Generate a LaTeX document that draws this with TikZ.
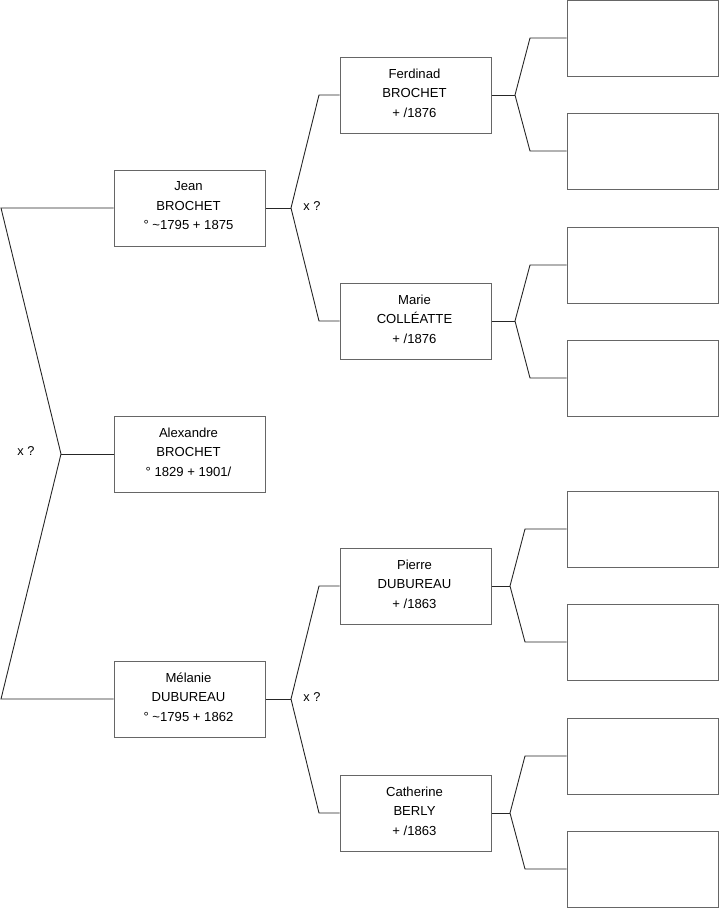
\documentclass[tikz,border=0pt]{standalone}
\usepackage{fontspec}
\setmainfont{Liberation Sans}
\begin{document}
\begin{tikzpicture}[x=1pt,y=-1pt,
  box/.style={draw=black!60,line width=1pt,fill=white,minimum width=151pt,minimum height=76pt,inner sep=0pt,align=center,font=\fontsize{13.1pt}{19.5pt}\selectfont},
  conn/.style={draw=black!85,line width=0.9pt},
  lbl/.style={font=\fontsize{12.8pt}{14pt}\selectfont,inner sep=0pt}]
\useasboundingbox (0,0) rectangle (719,908);
% generation 1
\node[box] (alex) at (189.5,454) {};
\node[align=center,inner sep=0pt,font=\fontsize{13.1pt}{19.5pt}\selectfont] (alext) at (188.5,452) {Alexandre\\BROCHET\\° 1829 + 1901/};
% generation 2
\node[box] (jean) at (189.5,208) {};
\node[align=center,inner sep=0pt,font=\fontsize{13.1pt}{19.5pt}\selectfont] (jeant) at (188.5,206) {Jean\\BROCHET\\° \textasciitilde1795 + 1875};
\node[box] (mel) at (189.5,699) {};
\node[align=center,inner sep=0pt,font=\fontsize{13.1pt}{19.5pt}\selectfont] (melt) at (188.5,697) {Mélanie\\DUBUREAU\\° \textasciitilde1795 + 1862};
% generation 3
\node[box] (ferd) at (415.5,95) {};
\node[align=center,inner sep=0pt,font=\fontsize{13.1pt}{19.5pt}\selectfont] (ferdt) at (414.5,93) {Ferdinad\\BROCHET\\+ /1876};
\node[box] (marie) at (415.5,321) {};
\node[align=center,inner sep=0pt,font=\fontsize{13.1pt}{19.5pt}\selectfont] (mariet) at (414.5,319) {Marie\\COLLÉATTE\\+ /1876};
\node[box] (pierre) at (415.5,586) {};
\node[align=center,inner sep=0pt,font=\fontsize{13.1pt}{19.5pt}\selectfont] (pierret) at (414.5,584) {Pierre\\DUBUREAU\\+ /1863};
\node[box] (cath) at (415.5,813) {};
\node[align=center,inner sep=0pt,font=\fontsize{13.1pt}{19.5pt}\selectfont] (catht) at (414.5,811) {Catherine\\BERLY\\+ /1863};
% generation 4 (empty)
\node[box] (e1) at (642.5,38) {};
\node[box] (e2) at (642.5,151) {};
\node[box] (e3) at (642.5,265) {};
\node[box] (e4) at (642.5,378) {};
\node[box] (e5) at (642.5,529) {};
\node[box] (e6) at (642.5,642) {};
\node[box] (e7) at (642.5,756) {};
\node[box] (e8) at (642.5,869) {};
% junction coordinates
\coordinate (j0) at (61,454);
\coordinate (j0a) at (1,208);
\coordinate (j0b) at (1,699);
\coordinate (j1) at (291,208);
\coordinate (j1a) at (319,95);
\coordinate (j1b) at (319,321);
\coordinate (j2) at (291,699);
\coordinate (j2a) at (319,586);
\coordinate (j2b) at (319,813);
\coordinate (f1) at (515,95);
\coordinate (f1a) at (530,38);
\coordinate (f1b) at (530,151);
\coordinate (m1) at (515,321);
\coordinate (m1a) at (530,265);
\coordinate (m1b) at (530,378);
\coordinate (p1) at (510,586);
\coordinate (p1a) at (525,529);
\coordinate (p1b) at (525,642);
\coordinate (c1) at (510,813);
\coordinate (c1a) at (525,756);
\coordinate (c1b) at (525,869);
% connectors
\draw[conn] (jean.west) -- (j0a) -- (j0) -- (j0b) -- (mel.west);
\draw[conn] (j0) -- (alex.west);
\draw[conn] (jean.east) -- (j1);
\draw[conn] (ferd.west) -- (j1a) -- (j1) -- (j1b) -- (marie.west);
\draw[conn] (mel.east) -- (j2);
\draw[conn] (pierre.west) -- (j2a) -- (j2) -- (j2b) -- (cath.west);
\draw[conn] (ferd.east) -- (f1);
\draw[conn] (e1.west) -- (f1a) -- (f1) -- (f1b) -- (e2.west);
\draw[conn] (marie.east) -- (m1);
\draw[conn] (e3.west) -- (m1a) -- (m1) -- (m1b) -- (e4.west);
\draw[conn] (pierre.east) -- (p1);
\draw[conn] (e5.west) -- (p1a) -- (p1) -- (p1b) -- (e6.west);
\draw[conn] (cath.east) -- (c1);
\draw[conn] (e7.west) -- (c1a) -- (c1) -- (c1b) -- (e8.west);
% labels
\node[lbl] (x0) at (26,451) {x ?};
\node[lbl] (x1) at (312,206) {x ?};
\node[lbl] (x2) at (312,697) {x ?};
\end{tikzpicture}
\end{document}
